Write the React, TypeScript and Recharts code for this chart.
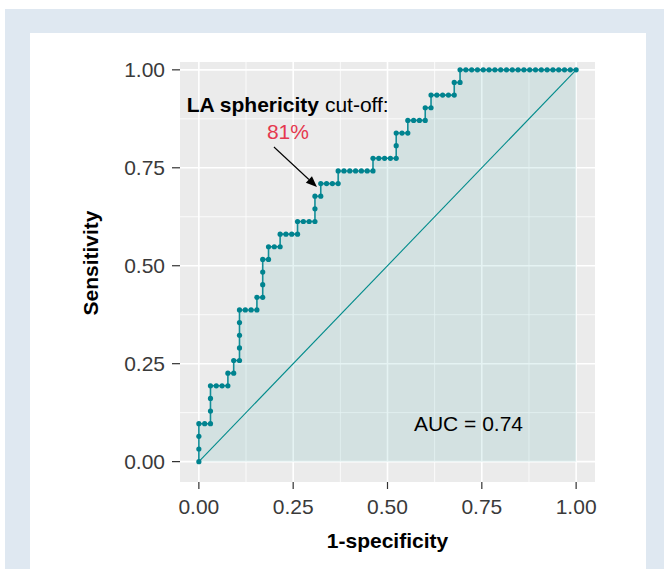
import { ComposedChart, Area, Line, XAxis, YAxis, CartesianGrid, ReferenceLine, ReferenceDot } from "recharts";

// ROC steps: 65 controls (x), 31 cases (y)
const N_NEG = 65;
const N_POS = 31;

const FP_COUNT = [
  0, 0, 0, 0, 1, 2, 2, 2, 2, 3, 4, 5, 5, 6, 6, 7, 7, 7, 7, 7, 8, 9, 10, 10, 11, 11, 11, 11, 12, 12,
  13, 14, 14, 15, 16, 17, 17, 18, 19, 20, 20, 20, 21, 21, 22, 23, 24, 24, 25, 26, 27, 28, 29, 30, 30,
  31, 32, 33, 34, 34, 34, 35, 36, 36, 37, 38, 39, 39, 40, 40, 41, 42, 43, 44, 44, 45, 45, 46, 47, 48,
  49, 50, 51, 52, 53, 54, 55, 56, 57, 58, 59, 60, 61, 62, 63, 64, 65,
];
const TP_COUNT = [
  0, 1, 2, 3, 3, 3, 4, 5, 6, 6, 6, 6, 7, 7, 8, 8, 9, 10, 11, 12, 12, 12, 12, 13, 13, 14, 15, 16, 16, 17,
  17, 17, 18, 18, 18, 18, 19, 19, 19, 19, 20, 21, 21, 22, 22, 22, 22, 23, 23, 23, 23, 23, 23, 23, 24,
  24, 24, 24, 24, 25, 26, 26, 26, 27, 27, 27, 27, 28, 28, 29, 29, 29, 29, 29, 30, 30, 31, 31, 31, 31,
  31, 31, 31, 31, 31, 31, 31, 31, 31, 31, 31, 31, 31, 31, 31, 31, 31,
];

const X_TICKS = [0, 0.25, 0.5, 0.75, 1];
const Y_TICKS = [0, 0.25, 0.5, 0.75, 1];
const MINOR = [0.125, 0.375, 0.625, 0.875];

const AUC = 0.74;
const CUTOFF = "81%";
// annotation anchors in data units
const TITLE_POS = { x: -0.032, y: 0.893 };
const CUTOFF_POS = { x: 0.236, y: 0.824 };
const ARROW = [{ x: 0.199, y: 0.803 }, { x: 0.313, y: 0.701 }];
const AUC_POS = { x: 0.57, y: 0.078 };

const TEAL = "#008B8B";
const FONT = "'Liberation Sans', Arial, Helvetica, sans-serif";

const data = FP_COUNT.map((fp, i) => ({ fpr: fp / N_NEG, tpr: TP_COUNT[i] / N_POS }));

function Arrow(props: any) {
  const { x1, y1, x2, y2 } = props;
  const a = Math.atan2(y2 - y1, x2 - x1);
  const len = 11;
  const half = 4.5;
  const bx = x2 - len * Math.cos(a);
  const by = y2 - len * Math.sin(a);
  const px = -Math.sin(a) * half;
  const py = Math.cos(a) * half;
  return (
    <g>
      <line x1={x1} y1={y1} x2={bx} y2={by} stroke="#000" strokeWidth={1.1} />
      <polygon points={`${x2},${y2} ${bx + px},${by + py} ${bx - px},${by - py}`} fill="#000" />
    </g>
  );
}

export default function App() {
  return (
    <div style={{ position: "absolute", left: 0, top: 0, width: 664, height: 569, overflow: "hidden", fontFamily: FONT }}>
      <div style={{ position: "absolute", left: 5, top: 9, width: 659, height: 560, background: "#DFE8F1" }} />
      <div style={{ position: "absolute", left: 30, top: 33, width: 616, height: 536, background: "#FFFFFF" }} />
      <div style={{ position: "absolute", left: 0, top: 0 }}>
        <ComposedChart width={664} height={569} data={data} margin={{ top: 62, right: 69, bottom: 27, left: 80 }}>
          <CartesianGrid fill="#EBEBEB" stroke="#FFFFFF" strokeWidth={0.8} verticalValues={MINOR} horizontalValues={MINOR} />
          <CartesianGrid stroke="#FFFFFF" strokeWidth={1.6} verticalValues={X_TICKS} horizontalValues={Y_TICKS} />
          <XAxis
            dataKey="fpr"
            type="number"
            domain={[-0.05, 1.05]}
            ticks={X_TICKS}
            allowDataOverflow
            height={60}
            axisLine={false}
            tickSize={7}
            tickMargin={10}
            tickLine={{ stroke: "#333", strokeWidth: 1.2 }}
            tick={{ fill: "#3a3a3a", fontSize: 21, fontFamily: FONT }}
            tickFormatter={(v: number) => v.toFixed(2)}
            label={{
              content: ({ viewBox }: any) => (
                <text x={viewBox.x + viewBox.width / 2} y={viewBox.y + 66} textAnchor="middle" fontSize={21} fontWeight="bold" fontFamily={FONT} fill="#000">
                  1-specificity
                </text>
              ),
            }}
          />
          <YAxis
            type="number"
            domain={[-0.052, 1.02]}
            ticks={Y_TICKS}
            allowDataOverflow
            width={100}
            axisLine={false}
            tickSize={8}
            tickMargin={7}
            tickLine={{ stroke: "#333", strokeWidth: 1.2 }}
            tick={{ fill: "#3a3a3a", fontSize: 21, fontFamily: FONT }}
            tickFormatter={(v: number) => v.toFixed(2)}
            label={{
              content: ({ viewBox }: any) => {
                const x = viewBox.x + 18;
                const y = viewBox.y + viewBox.height / 2 - 9;
                return (
                  <text x={x} y={y} transform={`rotate(-90, ${x}, ${y})`} textAnchor="middle" fontSize={21} fontWeight="bold" fontFamily={FONT} fill="#000">
                    Sensitivity
                  </text>
                );
              },
            }}
          />
          <Area
            dataKey="tpr"
            type="linear"
            baseValue={0}
            fill={TEAL}
            fillOpacity={0.1}
            stroke="none"
            isAnimationActive={false}
          />
          <ReferenceLine
            segment={[{ x: 0, y: 0 }, { x: 1, y: 1 }]}
            stroke={TEAL}
            strokeWidth={1.1}
          />
          <Line
            dataKey="tpr"
            type="linear"
            stroke="#138E98"
            strokeWidth={1.6}
            dot={{ r: 2.6, fill: "#00838F", stroke: "none" }}
            activeDot={false}
            isAnimationActive={false}
          />
          <ReferenceLine segment={ARROW} shape={Arrow} />
          <ReferenceDot
            x={TITLE_POS.x}
            y={TITLE_POS.y}
            r={1}
            shape={(p: any) => (
              <text x={p.cx} y={p.cy} fontSize={21} fontFamily={FONT} fill="#000">
                <tspan fontWeight="bold">LA sphericity</tspan>
                <tspan> cut-off:</tspan>
              </text>
            )}
          />
          <ReferenceDot
            x={CUTOFF_POS.x}
            y={CUTOFF_POS.y}
            r={1}
            shape={(p: any) => (
              <text x={p.cx} y={p.cy} textAnchor="middle" fontSize={21} fontFamily={FONT} fill="#E5384F">
                {CUTOFF}
              </text>
            )}
          />
          <ReferenceDot
            x={AUC_POS.x}
            y={AUC_POS.y}
            r={1}
            shape={(p: any) => (
              <text x={p.cx} y={p.cy} fontSize={21} fontFamily={FONT} fill="#000">
                {`AUC = ${AUC.toFixed(2)}`}
              </text>
            )}
          />
        </ComposedChart>
      </div>
    </div>
  );
}
